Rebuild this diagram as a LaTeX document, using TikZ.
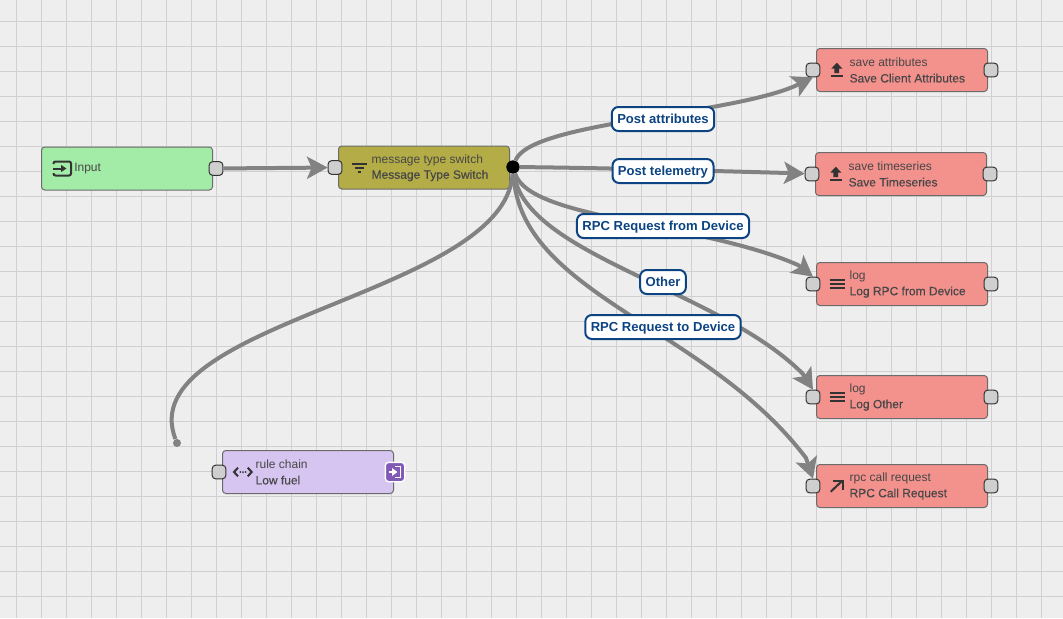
\documentclass[tikz,border=0pt]{standalone}
\usepackage{fontspec}
\setmainfont{Liberation Sans}
\newfontfamily\medfont[FakeBold=0.25]{Liberation Sans}
\usepackage{xcolor}
\usetikzlibrary{arrows.meta,positioning}
\definecolor{canvas}{HTML}{EEEEEE}
\definecolor{gridc}{HTML}{D0D0D0}
\definecolor{edgec}{HTML}{828282}
\definecolor{inkc}{HTML}{333333}
\definecolor{linkc}{HTML}{0C4483}

\begin{document}
\begin{tikzpicture}[
  x=0.75pt, y=-0.75pt,
  font=\fontsize{9}{11.6}\selectfont,
  gridl/.style={draw=gridc, line width=0.65pt},
  body/.style={rounded corners=2.5pt, draw=black!58, line width=0.75pt, minimum width=128.25pt, minimum height=32.25pt, inner sep=0pt},
  inb/.style={body, fill={rgb,255:red,163;green,236;blue,168}},
  swb/.style={body, fill={rgb,255:red,180;green,172;blue,70}},
  actb/.style={body, fill={rgb,255:red,243;green,145;blue,141}},
  chainb/.style={body, fill={rgb,255:red,215;green,197;blue,241}},
  txt/.style={align=left, inner sep=0pt, text=black!72, yshift=-0.3pt},
  port/.style={rounded corners=2.5pt, draw=black!80, fill=black!19, line width=0.75pt, minimum size=10.2pt, inner sep=0pt},
  hub/.style={circle, fill=black, minimum size=10pt, inner sep=0pt},
  wire/.style={draw=edgec, line width=3pt},
  arr/.style={wire, -{Stealth[length=15.5pt,width=16.5pt,inset=3.5pt]}},
  stub/.style={circle, fill=edgec, minimum size=6pt, inner sep=0pt},
  lnk/.style={rounded corners=5pt, draw=linkc, fill=white, line width=1.5pt, text=linkc, inner xsep=4.1pt, inner ysep=0pt, minimum height=18pt, text height=8pt, text depth=1pt, font=\fontsize{9.8}{12}\selectfont\bfseries},
  ico/.style={draw=inkc, line width=1.5pt},
  icof/.style={fill=inkc},
]
\useasboundingbox (0,0) rectangle (1063,618);
\fill[canvas] (0,0) rectangle (1063,618);
% grid
\foreach \k in {0,...,42}{\draw[gridl] ({16.5+25*\k},0)--({16.5+25*\k},618);}
\foreach \k in {0,...,23}{\draw[gridl] (0,{21.6+25*\k})--(1063,{21.6+25*\k});}

% boxes
\node[inb] (inp) at (127,168.5) {};
\node[swb] (sw) at (424,167.5) {};
\node[actb] (attr) at (902,70) {};
\node[actb] (ts) at (901,174) {};
\node[actb] (logrpc) at (902,284) {};
\node[actb] (logoth) at (902,397) {};
\node[actb] (rpc) at (902,486) {};
\node[chainb] (chain) at (308,472) {};

% box texts
\node[txt, right=24.75pt of inp.west] (inptxt) {Input};
\node[txt, right=25pt of sw.west] (swtxt) {message type switch\\{\medfont Message Type Switch}};
\node[txt, right=25pt of attr.west] (attrtxt) {save attributes\\{\medfont Save Client Attributes}};
\node[txt, right=25pt of ts.west] (tstxt) {save timeseries\\{\medfont Save Timeseries}};
\node[txt, right=25pt of logrpc.west] (logrpctxt) {log\\{\medfont Log RPC from Device}};
\node[txt, right=25pt of logoth.west] (logothtxt) {log\\{\medfont Log Other}};
\node[txt, right=25pt of rpc.west] (rpctxt) {rpc call request\\{\medfont RPC Call Request}};
\node[txt, right=25pt of chain.west] (chaintxt) {rule chain\\{\medfont Low fuel}};

% ports
\node[port] (inpout) at (216,168.5) {};
\node[port] (swin) at (335,167.5) {};
\node[hub] (swout) at (513,167) {};
\node[port] (attrin) at (813,70) {};
\node[port] (attrout) at (991,70) {};
\node[port] (tsin) at (812,174) {};
\node[port] (tsout) at (990,174) {};
\node[port] (logrpcin) at (813,284) {};
\node[port] (logrpcout) at (991,284) {};
\node[port] (logothin) at (813,397) {};
\node[port] (logothout) at (991,397) {};
\node[port] (rpcin) at (813,486) {};
\node[port] (rpcout) at (991,486) {};
\node[port] (chainin) at (219,472) {};
\node[stub] (lowend) at (177,443) {};

% connectors, the last bit sets the head
\draw[arr] (inpout)--(swin);
\draw[arr] (swout) .. controls (530,122) and (725,116) .. (795,86) -- (attrin.south);
\draw[arr] (swout) .. controls (610,168) and (715,171) .. (788,173) -- (tsin);
\draw[arr] (swout) .. controls (530,220) and (700,222) .. (798,265) -- (logrpcin.north);
\draw[arr] (swout) .. controls (525,255) and (720,290) .. (803,374) -- (logothin.north);
\draw[arr] (swout) .. controls (520,295) and (705,325) .. (806,458) -- (rpcin.north);
\draw[wire] (swout) .. controls (505,295) and (130,322) .. (lowend);

% link labels
\node[lnk] (l1) at (663,119) {Post attributes};
\node[lnk] (l2) at (663,171) {Post telemetry};
\node[lnk] (l3) at (663,226) {RPC Request from Device};
\node[lnk] (l4) at (663,282) {Other};
\node[lnk] (l5) at (663,327) {RPC Request to Device};

% icons
\draw[ico, rounded corners=1.5pt] (53.5,164)--(53.5,161.5)--(71,161.5)--(71,175.5)--(53.5,175.5)--(53.5,173);
\draw[ico, -{Stealth[length=4pt,width=5pt,inset=0pt]}] (53,168.5)--(66.5,168.5);
\draw[ico] (351.5,163.5)--(367,163.5) (355,167.7)--(363.5,167.7) (357.5,171.8)--(361,171.8);
\foreach \o/\y in {0/0, -1/104}{
  \draw[ico] ({831+\o},{75.7+\y})--({842.7+\o},{75.7+\y});
  \fill[icof] ({836.8+\o},{62.7+\y})--({842.3+\o},{68.5+\y})--({839.2+\o},{68.5+\y})--({839.2+\o},{73+\y})--({834.4+\o},{73+\y})--({834.4+\o},{68.5+\y})--({831.3+\o},{68.5+\y})--cycle;
}
\foreach \y in {284,397}{
  \draw[ico] (829.5,{\y-4.2})--(844.7,{\y-4.2}) (829.5,\y)--(844.7,\y) (829.5,{\y+4.2})--(844.7,{\y+4.2});
}
\draw[ico] (830.7,491.7)--(842.5,480.6);
\draw[ico] (833.3,480.6)--(842.7,480.6)--(842.7,490);
\draw[ico] (238,467.7)--(234,472)--(238,476.3) (247.7,467.7)--(251.7,472)--(247.7,476.3);
\foreach \x in {240.4,243,245.6}{\fill[icof] (\x,472) circle (0.75pt);}
\node[rounded corners=2.5pt, draw=white, fill={rgb,255:red,128;green,90;blue,180}, line width=1pt, minimum size=14.5pt, inner sep=0pt] (badge) at (395,472) {};
\draw[white, line width=1pt] (395,466.5)--(400.7,466.5)--(400.7,477.5)--(395,477.5);
\draw[white, line width=1.3pt, -{Stealth[length=4pt,width=5.5pt,inset=0pt]}] (389,472)--(397.5,472);
\end{tikzpicture}
\end{document}
